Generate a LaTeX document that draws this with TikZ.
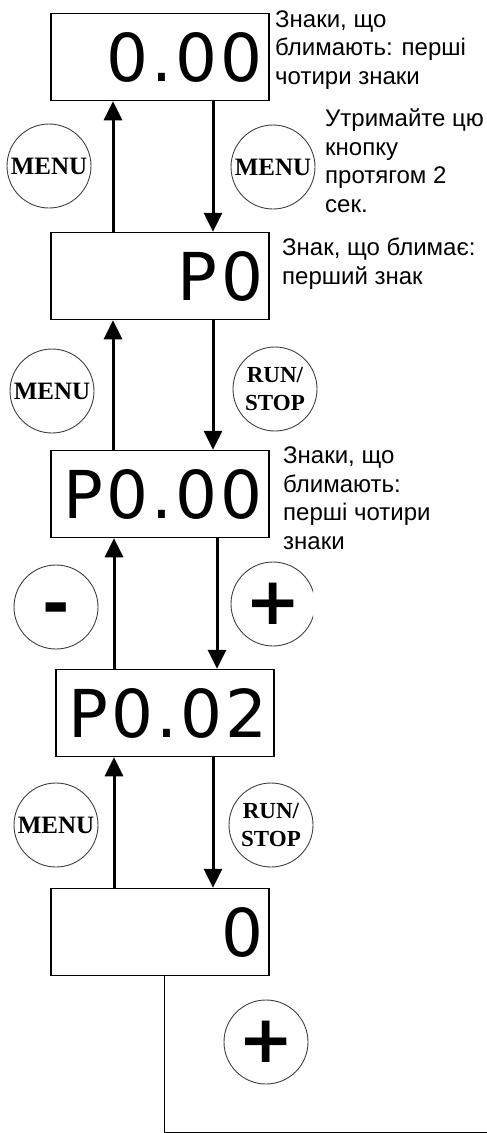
\documentclass[tikz,border=0pt]{standalone}
\usepackage{fontspec}
\setmainfont{Liberation Sans}
\newfontfamily\lcdfont[LetterSpace=5]{DejaVu Sans}
\newfontfamily\keyfont{Liberation Serif}
\newfontfamily\signfont{DejaVu Sans}
\usetikzlibrary{arrows.meta}
\begin{document}
\begin{tikzpicture}[x=1pt,y=-1pt,
        disp/.style={draw,line width=1.5pt,inner xsep=6pt,text width=206pt,minimum height=87pt,
            align=right,font=\lcdfont\fontsize{66}{66}\selectfont},
        key/.style={draw=black!75,line width=0.9pt,circle,minimum size=84pt,inner sep=0pt,
            align=center,font=\keyfont\bfseries\fontsize{25}{28}\selectfont},
        runkey/.style={key,font=\keyfont\bfseries\fontsize{23}{28}\selectfont},
        signkey/.style={key,font=\signfont\bfseries\fontsize{66}{66}\selectfont},
        note/.style={align=left,anchor=base west,inner sep=0pt,font=\fontsize{24}{28.5}\selectfont},
        arr/.style={line width=3pt,-{Triangle[width=18pt,length=19pt]}}]
        \useasboundingbox (0,0) rectangle (487,1133);
        \node[disp] (b1) at (160,57) {0.00};
        \node[disp] (b2) at (160,276) {P0};
        \node[disp] (b3) at (160,494) {P0.00};
        \node[disp] (b4) at (165,713) {P0.02};
        \node[disp] (b5) at (160,932) {0};
        \draw [arr] (b2.north -| 113,0) -- (b1.south -| 113,0);
        \draw [arr] (b1.south -| 213,0) -- (b2.north -| 213,0);
        \draw [arr] (b3.north -| 113,0) -- (b2.south -| 113,0);
        \draw [arr] (b2.south -| 213,0) -- (b3.north -| 213,0);
        \draw [arr] (b4.north -| 114,0) -- (b3.south -| 114,0);
        \draw [arr] (b3.south -| 217,0) -- (b4.north -| 217,0);
        \draw [arr] (b5.north -| 114,0) -- (b4.south -| 114,0);
        \draw [arr] (b4.south -| 213,0) -- (b5.north -| 213,0);
        \node[key] (k1) at (49,166) {MENU};
        \node[key] (k2) at (273,167) {MENU};
        \node[key] (k3) at (52,391) {MENU};
        \node[runkey] (k4) at (275,389) {RUN/\\STOP};
        \node[signkey,text height=38pt,text depth=0pt] (k5) at (56,607) {-};
        \begin{scope}
        \clip (0,0) rectangle (313,1133);
        \node[signkey] (k6) at (273,604) {+};
        \end{scope}
        \node[key] (k7) at (56,825) {MENU};
        \node[runkey] (k8) at (271,825) {RUN/\\STOP};
        \node[signkey] (k9) at (266,1042) {+};
        \node[note] (t1) at (275,84) {Знаки, що\\блимають: перші\\чотири знаки};
        \node[note] (t2) at (325,212) {Утримайте цю\\кнопку\\протягом 2\\сек.};
        \node[note] (t3) at (282,284) {Знак, що блимає:\\перший знак};
        \node[note] (t4) at (283,549) {Знаки, що\\блимають:\\перші чотири\\знаки};
        \coordinate (tail) at (487,1132);
        \draw [line width=1pt] (b5.south -| 164,0) |- (tail);
        \end{tikzpicture}
\end{document}
